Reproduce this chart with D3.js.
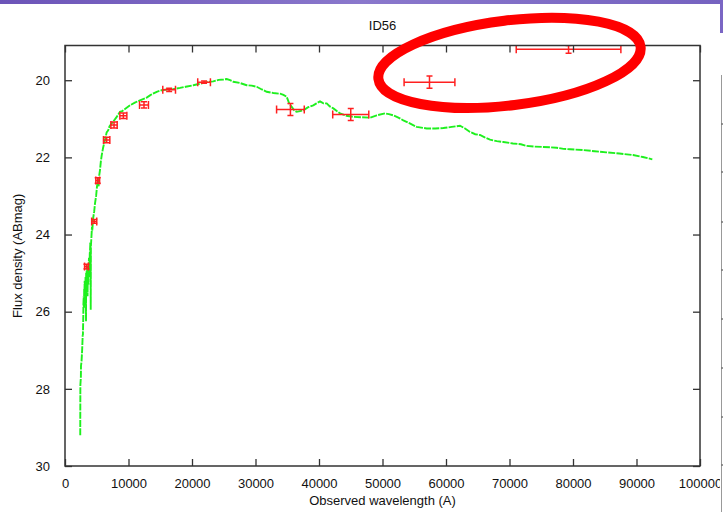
<!DOCTYPE html>
<html>
<head>
<meta charset="utf-8">
<script src="https://cdn.jsdelivr.net/npm/d3@7"></script>
<style>
  html, body { margin: 0; padding: 0; background: #fff; }
  svg { display: block; }
  text { font-family: "Liberation Sans", Arial, Helvetica, sans-serif; fill: #111; }
</style>
</head>
<body>
<svg id="chart" width="723" height="512"></svg>
<script>
// Model spectrum of ID56: observed wavelength (Å) and AB magnitude
const specWave = [2400, 2405, 2410, 2420, 2500, 2520, 2600, 2700, 2790, 2820, 2880, 2900, 2950, 3000, 3020, 3050, 3100, 3150, 3200, 3230, 3250, 3310, 3330, 3350, 3400, 3460, 3500, 3550, 3600, 3620, 3680, 3700, 3780, 3820, 3850, 3900, 3940, 4000, 4030, 4050, 4080, 4150, 4250, 4300, 4410, 4600, 4720, 4900, 5040, 5200, 5300, 5400, 5510, 5650, 5780, 6000, 6300, 6560, 6800, 7000, 7350, 7700, 8140, 8660, 9000, 9500, 10240, 11000, 11810, 12870, 13500, 14440, 15200, 16020, 17000, 18110, 19000, 20200, 21260, 22310, 23350, 24200, 25000, 25460, 26000, 26500, 27500, 28610, 29400, 30190, 31000, 31760, 32800, 33860, 34400, 34910, 35300, 35700, 36100, 36490, 37000, 37530, 38300, 39100, 39600, 40160, 40700, 41210, 41700, 42260, 42800, 43310, 44300, 45400, 46700, 48030, 49090, 50390, 51000, 51700, 52500, 53280, 54300, 55390, 56960, 58300, 59580, 60900, 62200, 63000, 63780, 64600, 65350, 66100, 66930, 68000, 69020, 70550, 71800, 72650, 73800, 75320, 76500, 77430, 78500, 79530, 81570, 83400, 85250, 87300, 89450, 91000, 92490];
const specMag  = [29.20, 28.80, 28.50, 27.90, 27.70, 27.40, 27.30, 27.00, 26.60, 26.62, 26.10, 25.80, 25.60, 25.90, 25.40, 25.55, 25.20, 25.40, 25.80, 25.10, 25.30, 26.25, 25.00, 25.40, 24.95, 25.20, 24.80, 25.60, 24.85, 25.00, 25.30, 24.90, 24.60, 24.90, 25.10, 24.50, 24.40, 24.20, 24.60, 25.95, 24.30, 24.10, 23.80, 23.90, 23.60, 23.40, 23.20, 23.00, 22.75, 22.60, 22.75, 22.45, 22.33, 22.10, 21.95, 21.75, 21.55, 21.35, 21.30, 21.20, 21.12, 21.05, 20.95, 20.82, 20.80, 20.74, 20.65, 20.58, 20.52, 20.45, 20.38, 20.30, 20.26, 20.24, 20.23, 20.20, 20.17, 20.13, 20.09, 20.05, 20.03, 19.99, 19.98, 19.97, 20.00, 20.04, 20.07, 20.13, 20.14, 20.17, 20.24, 20.30, 20.33, 20.35, 20.38, 20.43, 20.60, 20.69, 20.78, 20.82, 20.80, 20.78, 20.70, 20.65, 20.60, 20.55, 20.60, 20.60, 20.68, 20.73, 20.80, 20.86, 20.92, 20.95, 20.96, 20.97, 20.91, 20.86, 20.88, 20.91, 20.97, 21.04, 21.12, 21.21, 21.25, 21.25, 21.24, 21.21, 21.18, 21.25, 21.34, 21.40, 21.42, 21.48, 21.54, 21.58, 21.60, 21.64, 21.66, 21.70, 21.72, 21.73, 21.74, 21.75, 21.78, 21.79, 21.81, 21.84, 21.87, 21.90, 21.94, 21.99, 22.05];

// Photometric measurements with errors
const photWave = [3380, 4600, 5150, 6560, 7720, 9190, 12440, 16400, 21900, 35500, 45000, 57400, 79300];
const photMag  = [24.83, 23.66, 22.60, 21.55, 21.16, 20.92, 20.64, 20.25, 20.05, 20.76, 20.89, 20.05, 19.20];
const photWErr = [300, 400, 300, 500, 500, 550, 700, 1000, 1000, 2180, 2840, 4000, 8240];
const photMErr = [0.06, 0.05, 0.07, 0.07, 0.08, 0.07, 0.08, 0.04, 0.03, 0.155, 0.155, 0.16, 0.10];

// Axis ticks
const xTicks = [0, 10000, 20000, 30000, 40000, 50000, 60000, 70000, 80000, 90000, 100000];
const yTicks = [20, 22, 24, 26, 28, 30];

const titleText = "ID56";
const xLabel = "Observed wavelength (A)";
const yLabel = "Flux density (ABmag)";

// Highlight ring around the two reddest points (centre in data units)
const ringCentre = [70000, 19.55];
const ringHalfWave = 20800;
const ringHalfMag = 1.1;
const ringTilt = -7;

const W = 723, H = 512;
const margin = { left: 65, right: 23, top: 45.5, bottom: 46 };
const svg = d3.select("#chart");

// Slide background strips
const defs = svg.append("defs");
const grad = defs.append("linearGradient").attr("id", "slideBand");
grad.append("stop").attr("offset", "0%").attr("stop-color", "#6c54b8");
grad.append("stop").attr("offset", "50%").attr("stop-color", "#8a78cc");
grad.append("stop").attr("offset", "100%").attr("stop-color", "#7562c0");
svg.append("rect").attr("x", 0).attr("y", 0).attr("width", W).attr("height", 4).attr("fill", "url(#slideBand)");

const x = d3.scaleLinear().domain([0, 100000]).range([margin.left, W - margin.right]);
const y = d3.scaleLinear().domain([19.1, 30]).range([margin.top, H - margin.bottom]);

defs.append("clipPath").attr("id", "plotClip")
  .append("rect")
  .attr("x", x.range()[0]).attr("y", y.range()[0])
  .attr("width", x.range()[1] - x.range()[0])
  .attr("height", y.range()[1] - y.range()[0]);

const plot = svg.append("g").attr("clip-path", "url(#plotClip)");

// Spectrum
const spec = specWave.map((w, i) => [w, specMag[i]]);
plot.append("path")
  .datum(spec)
  .attr("fill", "none")
  .attr("stroke", "#1ef01e")
  .attr("stroke-width", 1.9)
  .attr("stroke-dasharray", "7,1.2")
  .attr("d", d3.line().x(d => x(d[0])).y(d => y(d[1])));

// Photometry with error bars
const phot = photWave.map((w, i) => ({ w, m: photMag[i], ew: photWErr[i], em: photMErr[i] }));
const eb = plot.append("g").attr("stroke", "#ff2020").attr("stroke-width", 1.5).attr("fill", "none");
const capW = 4, capM = 3;
phot.forEach(p => {
  const cx = x(p.w), cy = y(p.m);
  const x0 = x(p.w - p.ew), x1 = x(p.w + p.ew);
  const y0 = y(p.m - p.em), y1 = y(p.m + p.em);
  eb.append("line").attr("x1", x0).attr("x2", x1).attr("y1", cy).attr("y2", cy);
  eb.append("line").attr("x1", x0).attr("x2", x0).attr("y1", cy - capW).attr("y2", cy + capW);
  eb.append("line").attr("x1", x1).attr("x2", x1).attr("y1", cy - capW).attr("y2", cy + capW);
  eb.append("line").attr("x1", cx).attr("x2", cx).attr("y1", y0).attr("y2", y1);
  eb.append("line").attr("x1", cx - capM).attr("x2", cx + capM).attr("y1", y0).attr("y2", y0);
  eb.append("line").attr("x1", cx - capM).attr("x2", cx + capM).attr("y1", y1).attr("y2", y1);
});

// Frame and axes (ticks inward on all sides)
const tickLen = 7;
const axisColor = "#333";
const fmt = d3.format("d");

const gB = svg.append("g").attr("transform", `translate(0,${y.range()[1]})`)
  .call(d3.axisBottom(x).tickValues(xTicks).tickFormat(fmt).tickSizeInner(-tickLen).tickSizeOuter(0).tickPadding(13));
const gT = svg.append("g").attr("transform", `translate(0,${y.range()[0]})`)
  .call(d3.axisTop(x).tickValues(xTicks).tickFormat("").tickSizeInner(-tickLen).tickSizeOuter(0));
const gL = svg.append("g").attr("transform", `translate(${x.range()[0]},0)`)
  .call(d3.axisLeft(y).tickValues(yTicks).tickFormat(fmt).tickSizeInner(-tickLen).tickSizeOuter(0).tickPadding(15));
const gR = svg.append("g").attr("transform", `translate(${x.range()[1]},0)`)
  .call(d3.axisRight(y).tickValues(yTicks).tickFormat("").tickSizeInner(-tickLen).tickSizeOuter(0));

[gB, gT, gL, gR].forEach(g => {
  g.select(".domain").remove();
  g.selectAll(".tick line").attr("stroke", axisColor).attr("stroke-width", 1.3);
  g.selectAll("text").attr("font-size", 13).attr("fill", "#111")
    .style("font-family", "'Liberation Sans', Arial, sans-serif");
});

svg.append("rect")
  .attr("x", x.range()[0]).attr("y", y.range()[0])
  .attr("width", x.range()[1] - x.range()[0])
  .attr("height", y.range()[1] - y.range()[0])
  .attr("fill", "none").attr("stroke", axisColor).attr("stroke-width", 1.5);

// Titles
svg.append("text").attr("x", (x.range()[0] + x.range()[1]) / 2).attr("y", 30)
  .attr("text-anchor", "middle").attr("font-size", 13).text(titleText);
svg.append("text").attr("x", (x.range()[0] + x.range()[1]) / 2).attr("y", 505)
  .attr("text-anchor", "middle").attr("font-size", 13).text(xLabel);
svg.append("text")
  .attr("transform", `translate(22,${(y.range()[0] + y.range()[1]) / 2}) rotate(-90)`)
  .attr("text-anchor", "middle").attr("font-size", 13).text(yLabel);

// Highlight ring
const rcx = x(ringCentre[0]), rcy = y(ringCentre[1]);
svg.append("ellipse")
  .attr("cx", rcx).attr("cy", rcy)
  .attr("rx", x(ringCentre[0] + ringHalfWave) - rcx)
  .attr("ry", y(ringCentre[1] + ringHalfMag) - rcy)
  .attr("transform", `rotate(${ringTilt} ${rcx} ${rcy})`)
  .attr("fill", "none").attr("stroke", "#ff0000").attr("stroke-width", 10);

// Edge of the neighbouring panel on the slide
svg.append("rect").attr("x", 720).attr("y", 0).attr("width", 3).attr("height", H).attr("fill", "#fff");
svg.append("rect").attr("x", 720).attr("y", 0).attr("width", 3).attr("height", 33).attr("fill", "#7a66c4");
svg.append("line").attr("x1", 721.5).attr("x2", 721.5).attr("y1", 75).attr("y2", H)
  .attr("stroke", "#999").attr("stroke-width", 1);
const sideTicks = [124, 172, 222, 270, 319, 368, 417, 465];
svg.selectAll(".sideTick").data(sideTicks).enter().append("line")
  .attr("x1", 721.5).attr("x2", 723).attr("y1", d => d).attr("y2", d => d)
  .attr("stroke", "#333").attr("stroke-width", 1);
</script>
</body>
</html>
